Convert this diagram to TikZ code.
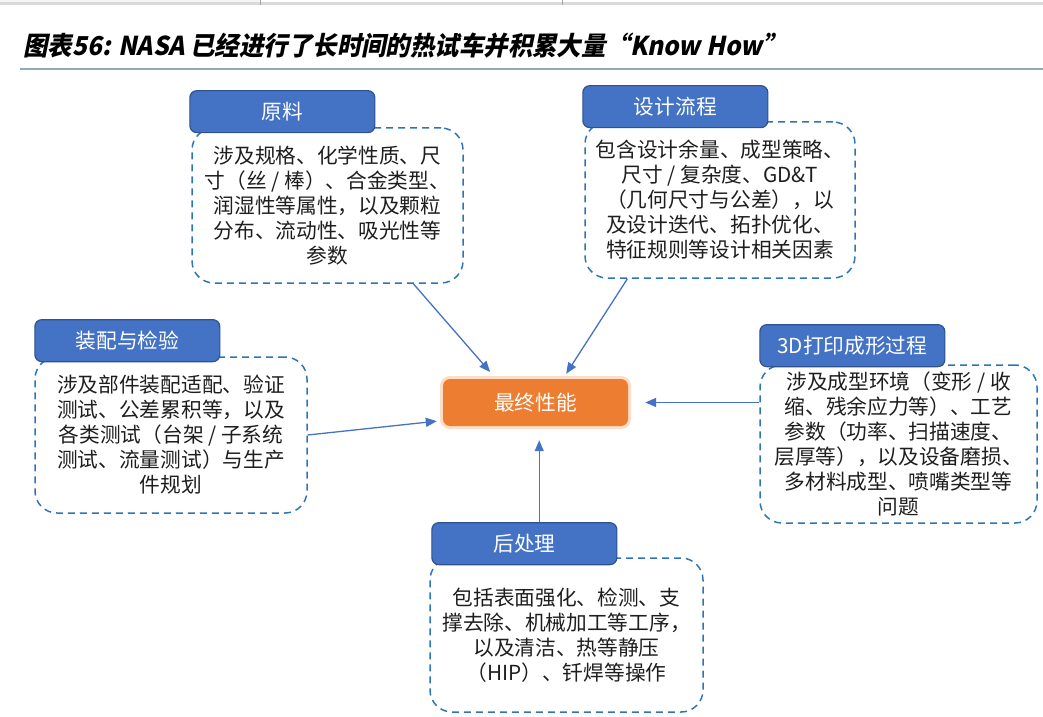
\documentclass[tikz,border=0pt]{standalone}
\usepackage{fontspec}
\setmainfont{Noto Sans CJK SC}
\newfontfamily\titlefont[BoldFeatures={FakeSlant=0.2, FakeStretch=0.94}]{Noto Sans CJK SC}
\usetikzlibrary{positioning, arrows.meta, calc}
\definecolor{headBlue}{HTML}{4472C4}
\definecolor{headEdge}{HTML}{2F528F}
\definecolor{dashBlue}{HTML}{2E75B6}
\definecolor{coreOrange}{HTML}{ED7D31}
\definecolor{coreGlow}{HTML}{FBDDC8}
\definecolor{ruleGray}{HTML}{D9D9D9}
\definecolor{titleRule}{HTML}{8FAABB}
\definecolor{textDark}{HTML}{1E1E1E}
\newcommand\bodyfont{\fontsize{20.7}{25}\selectfont}

\begin{document}
\begin{tikzpicture}[
    x=1pt, y=1pt,
    info/.style={draw=dashBlue, dash pattern=on 7pt off 5pt, line width=1.5pt,
                 rounded corners=22pt, minimum width=272pt, minimum height=156pt,
                 align=center, font=\bodyfont, text=textDark},
    head/.style={draw=headEdge, fill=headBlue, line width=1.2pt, rounded corners=7pt,
                 minimum width=185pt, minimum height=42pt, text=white, font=\bodyfont},
    core/.style={fill=coreOrange, rounded corners=7pt, minimum width=185pt,
                 minimum height=47pt, text=white, font=\bodyfont,
                 preaction={draw=coreGlow, line width=6pt}},
    arr/.style={-{Triangle[length=11pt, width=9pt]}, draw=headBlue, line width=1.3pt},
  ]
    \useasboundingbox (0,0) rectangle (1043,716);

    % window edge and title
    \fill[gray!8] (0,714) rectangle (260,716);
    \fill[ruleGray] (0,711) rectangle (1043,714);
    \draw[gray!70, line width=0.8pt] (260,711) -- (260,716) (562,711) -- (562,716);
    \node[anchor=west, font=\titlefont\bfseries\fontsize{26}{30}\selectfont] (title) at (20,670)
      {图表56: NASA 已经进行了长时间的热试车并积累大量“Know How”};
    \draw[titleRule, line width=1.5pt] (20,647) -- (1043,647);

    % core
    \node[core] (perf) at (535.5,313.5) {最终性能};

    % detail boxes
    \node[info, minimum width=271pt, minimum height=155pt] (raw) at (327.5,510.5)
      {涉及规格、化学性质、尺\\寸（丝 / 棒）、合金类型、\\润湿性等属性，以及颗粒\\分布、流动性、吸光性等\\参数};
    \node[info, minimum width=270pt] (design) at (720,516)
      {包含设计余量、成型策略、\\尺寸 / 复杂度、GD\&T\\（几何尺寸与公差），以\\及设计迭代、拓扑优化、\\特征规则等设计相关因素};
    \node[info] (assy) at (171,281)
      {涉及部件装配适配、验证\\测试、公差累积等，以及\\各类测试（台架 / 子系统\\测试、流量测试）与生产\\件规划};
    \node[info, minimum width=277pt, minimum height=158pt] (print) at (898.5,272)
      {涉及成型环境（变形 / 收\\缩、残余应力等）、工艺\\参数（功率、扫描速度、\\层厚等），以及设备磨损、\\多材料成型、喷嘴类型等\\问题};
    \node[info, minimum width=273pt, minimum height=154pt] (post) at (566.5,81)
      {包括表面强化、检测、支\\撑去除、机械加工等工序，\\以及清洁、热等静压\\（HIP）、钎焊等操作};

    % headers
    \node[head, above right=-6pt and -2pt of raw.north west]   (rawHead)    {原料};
    \node[head, above right=-7pt and -2pt of design.north west] (designHead) {设计流程};
    \node[head, above right=-6pt and 0pt of assy.north west]   (assyHead)   {装配与检验};
    \node[head, above right=-3pt and 0pt of print.north west]  (printHead)  {3D打印成形过程};
    \node[head, above right=-8pt and 2pt of post.north west]   (postHead)   {后处理};

    % connectors
    \coordinate (postTop) at ($(postHead.north west)!0.58!(postHead.north east)$);
    \draw[arr, shorten >=9pt] ($(raw.south west)!0.815!(raw.south east)$)
      -- ($(perf.north west)!0.287!(perf.north east)$);
    \draw[arr, shorten >=6pt] ($(design.south west)!0.159!(design.south east)$)
      -- ($(perf.north west)!0.648!(perf.north east)$);
    \draw[arr, shorten >=6pt] (assy.east) -- ($(perf.north west)!0.88!(perf.south west)$);
    \draw[arr, shorten >=17pt] (print.west |- perf.east) -- (perf.east);
    \draw[arr, shorten >=14pt] (postTop) -- (postTop |- perf.south);
  \end{tikzpicture}
\end{document}
